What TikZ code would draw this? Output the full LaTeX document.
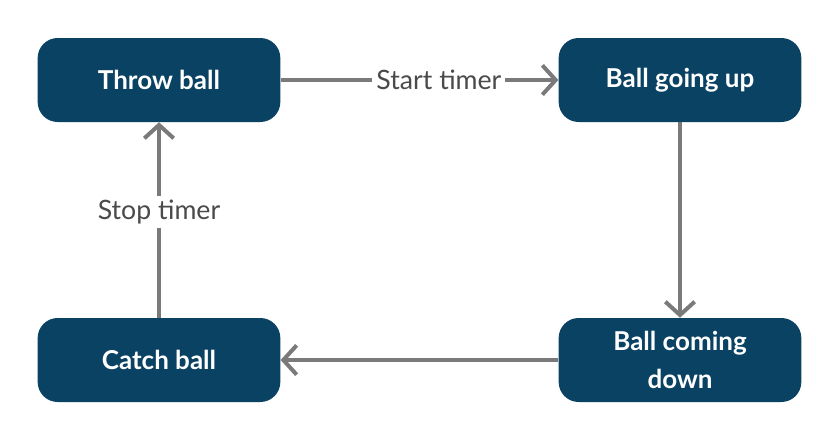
\documentclass[tikz,border=0pt]{standalone}
\usepackage{fontspec}
\setmainfont{Lato}
\usetikzlibrary{arrows.meta}
\definecolor{stateblue}{HTML}{0A4263}
\definecolor{edgegray}{HTML}{7A7A7A}
\definecolor{labelgray}{HTML}{4A4A4A}
\tikzset{
  >={Straight Barb[length=10pt,width=22pt,line width=3pt]},
}
\tikzstyle{state}=[fill=stateblue,rounded corners=15pt,minimum width=182pt,minimum height=63pt,
  text=white,font=\fontsize{19.5}{28}\selectfont\bfseries,align=center,inner sep=0pt]
\tikzstyle{trans}=[edgegray,line width=3pt,->]
\tikzstyle{translabel}=[fill=white,text=labelgray,font=\fontsize{20}{24}\selectfont,inner sep=3pt]
\begin{document}
\begin{tikzpicture}[x=0.75pt,y=-0.75pt]
    \useasboundingbox (0,0) rectangle (840,440);
    \node[state] (throw) at (159,80) {Throw ball};
    \node[state] (up) at (680,80) {Ball going up};
    \node[state] (down) at (680,360) {Ball coming\\down};
    \node[state] (catch) at (159,360) {Catch ball};
    \draw[trans] (throw) -- (up) node[translabel,pos=.57]{Start timer};
    \draw[trans] (up) -- (down);
    \draw[trans] (down) -- (catch);
    \draw[trans] (catch) -- (throw) node[translabel,pos=.54]{Stop timer};
\end{tikzpicture}
\end{document}
